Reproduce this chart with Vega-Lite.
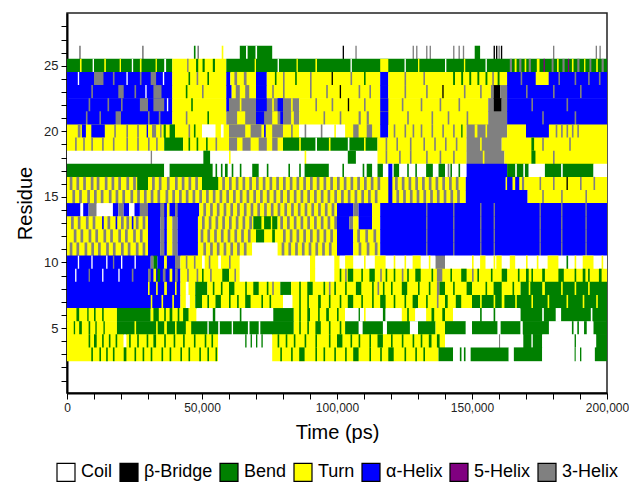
{
"$schema": "https://vega.github.io/schema/vega-lite/v6.json",
"width": 540, "height": 380,
"autosize": {"type": "none"},
"padding": {"left": 67, "top": 13, "right": 22, "bottom": 95},
"config": {"view": {"stroke": "#222", "strokeWidth": 1.5}, "font": "Liberation Sans"},
"data": {"values": [
{"res":26,"t0":4500,"t1":5100,"ss":"3-Helix"},
{"res":26,"t0":27800,"t1":28400,"ss":"3-Helix"},
{"res":26,"t0":47000,"t1":47600,"ss":"Bend"},
{"res":26,"t0":48300,"t1":48900,"ss":"3-Helix"},
{"res":26,"t0":57300,"t1":57900,"ss":"Turn"},
{"res":26,"t0":64000,"t1":76000,"ss":"Bend"},
{"res":26,"t0":66300,"t1":66900,"ss":"Coil"},
{"res":26,"t0":69800,"t1":70400,"ss":"Coil"},
{"res":26,"t0":102100,"t1":102600,"ss":"β-Bridge"},
{"res":26,"t0":106800,"t1":107300,"ss":"3-Helix"},
{"res":26,"t0":128000,"t1":128500,"ss":"3-Helix"},
{"res":26,"t0":129300,"t1":129800,"ss":"3-Helix"},
{"res":26,"t0":133000,"t1":133500,"ss":"3-Helix"},
{"res":26,"t0":134300,"t1":134800,"ss":"3-Helix"},
{"res":26,"t0":143000,"t1":143500,"ss":"3-Helix"},
{"res":26,"t0":145000,"t1":145500,"ss":"3-Helix"},
{"res":26,"t0":146600,"t1":147100,"ss":"3-Helix"},
{"res":26,"t0":151000,"t1":153000,"ss":"Bend"},
{"res":26,"t0":158000,"t1":158500,"ss":"β-Bridge"},
{"res":26,"t0":158900,"t1":159400,"ss":"β-Bridge"},
{"res":26,"t0":159800,"t1":160300,"ss":"3-Helix"},
{"res":26,"t0":160700,"t1":161200,"ss":"β-Bridge"},
{"res":26,"t0":180000,"t1":180500,"ss":"3-Helix"},
{"res":26,"t0":195800,"t1":196300,"ss":"3-Helix"},
{"res":26,"t0":197200,"t1":197700,"ss":"3-Helix"},

{"res":25,"t0":0,"t1":39000,"ss":"Bend"},
{"res":25,"t0":39000,"t1":59000,"ss":"Turn"},
{"res":25,"t0":59000,"t1":200000,"ss":"Bend"},
{"res":25,"t0":4800,"t1":5400,"ss":"Turn"},
{"res":25,"t0":9500,"t1":10000,"ss":"Coil"},
{"res":25,"t0":13800,"t1":14400,"ss":"Turn"},
{"res":25,"t0":19500,"t1":20000,"ss":"Turn"},
{"res":25,"t0":24000,"t1":24500,"ss":"Coil"},
{"res":25,"t0":27000,"t1":27600,"ss":"Turn"},
{"res":25,"t0":32800,"t1":33300,"ss":"Turn"},
{"res":25,"t0":36000,"t1":36700,"ss":"Coil"},
{"res":25,"t0":44500,"t1":45000,"ss":"3-Helix"},
{"res":25,"t0":47800,"t1":48600,"ss":"Bend"},
{"res":25,"t0":50200,"t1":51000,"ss":"Bend"},
{"res":25,"t0":54000,"t1":54800,"ss":"Bend"},
{"res":25,"t0":69500,"t1":70000,"ss":"Turn"},
{"res":25,"t0":78000,"t1":78500,"ss":"Coil"},
{"res":25,"t0":85000,"t1":85500,"ss":"Turn"},
{"res":25,"t0":92000,"t1":92600,"ss":"Turn"},
{"res":25,"t0":105000,"t1":105500,"ss":"Coil"},
{"res":25,"t0":116000,"t1":119000,"ss":"Turn"},
{"res":25,"t0":125000,"t1":125500,"ss":"Coil"},
{"res":25,"t0":130000,"t1":130500,"ss":"Turn"},
{"res":25,"t0":140000,"t1":140500,"ss":"Coil"},
{"res":25,"t0":147000,"t1":147500,"ss":"Turn"},
{"res":25,"t0":155000,"t1":155500,"ss":"Coil"},
{"res":25,"t0":164000,"t1":164800,"ss":"3-Helix"},
{"res":25,"t0":165800,"t1":166500,"ss":"Turn"},
{"res":25,"t0":167500,"t1":168300,"ss":"3-Helix"},
{"res":25,"t0":169500,"t1":170100,"ss":"Turn"},
{"res":25,"t0":171000,"t1":171800,"ss":"3-Helix"},
{"res":25,"t0":174000,"t1":175000,"ss":"Turn"},
{"res":25,"t0":176500,"t1":177000,"ss":"5-Helix"},
{"res":25,"t0":179500,"t1":180200,"ss":"3-Helix"},
{"res":25,"t0":181500,"t1":182100,"ss":"Turn"},
{"res":25,"t0":183500,"t1":184300,"ss":"3-Helix"},
{"res":25,"t0":185500,"t1":186000,"ss":"5-Helix"},
{"res":25,"t0":187000,"t1":187600,"ss":"Turn"},
{"res":25,"t0":189000,"t1":189800,"ss":"3-Helix"},
{"res":25,"t0":191500,"t1":192000,"ss":"Turn"},
{"res":25,"t0":193500,"t1":194200,"ss":"3-Helix"},
{"res":25,"t0":196000,"t1":196600,"ss":"Turn"},
{"res":25,"t0":198000,"t1":198800,"ss":"3-Helix"},

{"res":24,"t0":0,"t1":39000,"ss":"α-Helix"},
{"res":24,"t0":39000,"t1":59000,"ss":"Turn"},
{"res":24,"t0":59000,"t1":60500,"ss":"α-Helix"},
{"res":24,"t0":60500,"t1":70000,"ss":"Turn"},
{"res":24,"t0":70000,"t1":74000,"ss":"α-Helix"},
{"res":24,"t0":74000,"t1":116000,"ss":"Turn"},
{"res":24,"t0":116000,"t1":119000,"ss":"α-Helix"},
{"res":24,"t0":119000,"t1":163000,"ss":"Turn"},
{"res":24,"t0":163000,"t1":200000,"ss":"α-Helix"},
{"res":24,"t0":4000,"t1":4500,"ss":"Coil"},
{"res":24,"t0":10000,"t1":13500,"ss":"3-Helix"},
{"res":24,"t0":17000,"t1":17600,"ss":"3-Helix"},
{"res":24,"t0":22000,"t1":22500,"ss":"Coil"},
{"res":24,"t0":27000,"t1":27600,"ss":"3-Helix"},
{"res":24,"t0":31000,"t1":33000,"ss":"3-Helix"},
{"res":24,"t0":35500,"t1":36000,"ss":"Coil"},
{"res":24,"t0":45000,"t1":45600,"ss":"Bend"},
{"res":24,"t0":48000,"t1":48600,"ss":"3-Helix"},
{"res":24,"t0":52000,"t1":52600,"ss":"Bend"},
{"res":24,"t0":62000,"t1":63000,"ss":"3-Helix"},
{"res":24,"t0":65500,"t1":66500,"ss":"3-Helix"},
{"res":24,"t0":77000,"t1":77600,"ss":"Bend"},
{"res":24,"t0":80000,"t1":80600,"ss":"3-Helix"},
{"res":24,"t0":84500,"t1":85100,"ss":"Bend"},
{"res":24,"t0":90000,"t1":90600,"ss":"3-Helix"},
{"res":24,"t0":98000,"t1":98500,"ss":"β-Bridge"},
{"res":24,"t0":105000,"t1":105600,"ss":"3-Helix"},
{"res":24,"t0":110000,"t1":110600,"ss":"Bend"},
{"res":24,"t0":125000,"t1":125600,"ss":"3-Helix"},
{"res":24,"t0":132000,"t1":132600,"ss":"3-Helix"},
{"res":24,"t0":143000,"t1":143700,"ss":"Bend"},
{"res":24,"t0":146000,"t1":146700,"ss":"Bend"},
{"res":24,"t0":149000,"t1":149700,"ss":"Bend"},
{"res":24,"t0":152000,"t1":152700,"ss":"Bend"},
{"res":24,"t0":155000,"t1":155700,"ss":"Bend"},
{"res":24,"t0":157500,"t1":158100,"ss":"3-Helix"},
{"res":24,"t0":159500,"t1":160200,"ss":"Bend"},
{"res":24,"t0":168000,"t1":168600,"ss":"3-Helix"},
{"res":24,"t0":173600,"t1":178400,"ss":"Turn"},
{"res":24,"t0":182000,"t1":182600,"ss":"3-Helix"},
{"res":24,"t0":188000,"t1":188600,"ss":"3-Helix"},
{"res":24,"t0":193000,"t1":193600,"ss":"3-Helix"},
{"res":24,"t0":197000,"t1":197600,"ss":"3-Helix"},

{"res":23,"t0":0,"t1":39000,"ss":"α-Helix"},
{"res":23,"t0":39000,"t1":59000,"ss":"Turn"},
{"res":23,"t0":59000,"t1":61000,"ss":"α-Helix"},
{"res":23,"t0":61000,"t1":70000,"ss":"Turn"},
{"res":23,"t0":70000,"t1":74000,"ss":"α-Helix"},
{"res":23,"t0":74000,"t1":116000,"ss":"Turn"},
{"res":23,"t0":116000,"t1":119000,"ss":"α-Helix"},
{"res":23,"t0":119000,"t1":157000,"ss":"Turn"},
{"res":23,"t0":157000,"t1":158000,"ss":"3-Helix"},
{"res":23,"t0":158000,"t1":160500,"ss":"β-Bridge"},
{"res":23,"t0":160500,"t1":163000,"ss":"3-Helix"},
{"res":23,"t0":163000,"t1":200000,"ss":"α-Helix"},
{"res":23,"t0":9000,"t1":9600,"ss":"3-Helix"},
{"res":23,"t0":19000,"t1":21000,"ss":"3-Helix"},
{"res":23,"t0":25000,"t1":25600,"ss":"3-Helix"},
{"res":23,"t0":29000,"t1":29500,"ss":"Coil"},
{"res":23,"t0":32000,"t1":35000,"ss":"3-Helix"},
{"res":23,"t0":44000,"t1":44600,"ss":"Bend"},
{"res":23,"t0":50000,"t1":50600,"ss":"3-Helix"},
{"res":23,"t0":62500,"t1":64000,"ss":"3-Helix"},
{"res":23,"t0":66000,"t1":67500,"ss":"3-Helix"},
{"res":23,"t0":76000,"t1":76600,"ss":"3-Helix"},
{"res":23,"t0":80000,"t1":80600,"ss":"3-Helix"},
{"res":23,"t0":90000,"t1":90600,"ss":"3-Helix"},
{"res":23,"t0":96000,"t1":96600,"ss":"3-Helix"},
{"res":23,"t0":101000,"t1":101500,"ss":"β-Bridge"},
{"res":23,"t0":108000,"t1":108600,"ss":"3-Helix"},
{"res":23,"t0":112000,"t1":112600,"ss":"3-Helix"},
{"res":23,"t0":125000,"t1":125600,"ss":"3-Helix"},
{"res":23,"t0":133000,"t1":133600,"ss":"3-Helix"},
{"res":23,"t0":139000,"t1":139500,"ss":"β-Bridge"},
{"res":23,"t0":147000,"t1":147600,"ss":"3-Helix"},
{"res":23,"t0":153000,"t1":153600,"ss":"3-Helix"},
{"res":23,"t0":170000,"t1":170600,"ss":"3-Helix"},
{"res":23,"t0":180000,"t1":180600,"ss":"3-Helix"},
{"res":23,"t0":190000,"t1":190600,"ss":"3-Helix"},

{"res":22,"t0":0,"t1":39000,"ss":"α-Helix"},
{"res":22,"t0":39000,"t1":59000,"ss":"Turn"},
{"res":22,"t0":59000,"t1":60000,"ss":"α-Helix"},
{"res":22,"t0":60000,"t1":86000,"ss":"3-Helix"},
{"res":22,"t0":86000,"t1":156000,"ss":"Turn"},
{"res":22,"t0":156000,"t1":158000,"ss":"3-Helix"},
{"res":22,"t0":158000,"t1":161000,"ss":"β-Bridge"},
{"res":22,"t0":161000,"t1":163000,"ss":"3-Helix"},
{"res":22,"t0":163000,"t1":200000,"ss":"α-Helix"},
{"res":22,"t0":8000,"t1":8600,"ss":"3-Helix"},
{"res":22,"t0":15000,"t1":15600,"ss":"3-Helix"},
{"res":22,"t0":20000,"t1":20600,"ss":"3-Helix"},
{"res":22,"t0":27000,"t1":30000,"ss":"3-Helix"},
{"res":22,"t0":32000,"t1":36000,"ss":"3-Helix"},
{"res":22,"t0":37000,"t1":37500,"ss":"Coil"},
{"res":22,"t0":46000,"t1":46600,"ss":"Bend"},
{"res":22,"t0":64000,"t1":64600,"ss":"Turn"},
{"res":22,"t0":70000,"t1":74000,"ss":"α-Helix"},
{"res":22,"t0":76000,"t1":76600,"ss":"Turn"},
{"res":22,"t0":78000,"t1":80000,"ss":"α-Helix"},
{"res":22,"t0":83000,"t1":83600,"ss":"Turn"},
{"res":22,"t0":92000,"t1":92600,"ss":"3-Helix"},
{"res":22,"t0":98000,"t1":98600,"ss":"3-Helix"},
{"res":22,"t0":104000,"t1":104500,"ss":"β-Bridge"},
{"res":22,"t0":110000,"t1":110600,"ss":"3-Helix"},
{"res":22,"t0":116000,"t1":119000,"ss":"α-Helix"},
{"res":22,"t0":124000,"t1":124600,"ss":"3-Helix"},
{"res":22,"t0":131000,"t1":131600,"ss":"3-Helix"},
{"res":22,"t0":138000,"t1":138600,"ss":"3-Helix"},
{"res":22,"t0":145000,"t1":145600,"ss":"3-Helix"},
{"res":22,"t0":172000,"t1":172600,"ss":"3-Helix"},
{"res":22,"t0":185000,"t1":185600,"ss":"3-Helix"},

{"res":21,"t0":0,"t1":39000,"ss":"α-Helix"},
{"res":21,"t0":39000,"t1":59000,"ss":"Turn"},
{"res":21,"t0":59000,"t1":86000,"ss":"3-Helix"},
{"res":21,"t0":86000,"t1":156000,"ss":"Turn"},
{"res":21,"t0":156000,"t1":163000,"ss":"3-Helix"},
{"res":21,"t0":163000,"t1":200000,"ss":"α-Helix"},
{"res":21,"t0":7000,"t1":7600,"ss":"3-Helix"},
{"res":21,"t0":12000,"t1":12600,"ss":"3-Helix"},
{"res":21,"t0":18000,"t1":20000,"ss":"3-Helix"},
{"res":21,"t0":30000,"t1":30600,"ss":"3-Helix"},
{"res":21,"t0":34000,"t1":34600,"ss":"3-Helix"},
{"res":21,"t0":44000,"t1":44600,"ss":"3-Helix"},
{"res":21,"t0":52000,"t1":52600,"ss":"Bend"},
{"res":21,"t0":63000,"t1":66000,"ss":"Turn"},
{"res":21,"t0":70000,"t1":73000,"ss":"α-Helix"},
{"res":21,"t0":76000,"t1":78000,"ss":"Turn"},
{"res":21,"t0":79000,"t1":80000,"ss":"α-Helix"},
{"res":21,"t0":83000,"t1":84000,"ss":"Turn"},
{"res":21,"t0":95000,"t1":95600,"ss":"3-Helix"},
{"res":21,"t0":101000,"t1":101600,"ss":"3-Helix"},
{"res":21,"t0":108000,"t1":108800,"ss":"3-Helix"},
{"res":21,"t0":111000,"t1":111800,"ss":"3-Helix"},
{"res":21,"t0":116000,"t1":119000,"ss":"α-Helix"},
{"res":21,"t0":126000,"t1":126600,"ss":"3-Helix"},
{"res":21,"t0":135000,"t1":135600,"ss":"3-Helix"},
{"res":21,"t0":141000,"t1":141600,"ss":"3-Helix"},
{"res":21,"t0":148000,"t1":148600,"ss":"3-Helix"},
{"res":21,"t0":176000,"t1":176600,"ss":"3-Helix"},
{"res":21,"t0":188000,"t1":188600,"ss":"3-Helix"},

{"res":20,"t0":0,"t1":86000,"ss":"Turn"},
{"res":20,"t0":86000,"t1":103000,"ss":"Coil"},
{"res":20,"t0":103000,"t1":116000,"ss":"Turn"},
{"res":20,"t0":116000,"t1":119000,"ss":"α-Helix"},
{"res":20,"t0":119000,"t1":148000,"ss":"Turn"},
{"res":20,"t0":148000,"t1":163000,"ss":"3-Helix"},
{"res":20,"t0":163000,"t1":170000,"ss":"Turn"},
{"res":20,"t0":170000,"t1":178500,"ss":"α-Helix"},
{"res":20,"t0":178500,"t1":200000,"ss":"Turn"},
{"res":20,"t0":4000,"t1":5000,"ss":"3-Helix"},
{"res":20,"t0":5500,"t1":7000,"ss":"α-Helix"},
{"res":20,"t0":9000,"t1":14000,"ss":"α-Helix"},
{"res":20,"t0":17500,"t1":18100,"ss":"3-Helix"},
{"res":20,"t0":22000,"t1":22600,"ss":"3-Helix"},
{"res":20,"t0":26000,"t1":26600,"ss":"3-Helix"},
{"res":20,"t0":29500,"t1":30000,"ss":"α-Helix"},
{"res":20,"t0":31500,"t1":33000,"ss":"3-Helix"},
{"res":20,"t0":34500,"t1":35000,"ss":"3-Helix"},
{"res":20,"t0":35800,"t1":36600,"ss":"Bend"},
{"res":20,"t0":38000,"t1":40000,"ss":"Bend"},
{"res":20,"t0":45000,"t1":45600,"ss":"3-Helix"},
{"res":20,"t0":47000,"t1":47600,"ss":"Bend"},
{"res":20,"t0":50000,"t1":55000,"ss":"Coil"},
{"res":20,"t0":57000,"t1":58000,"ss":"Coil"},
{"res":20,"t0":60000,"t1":66000,"ss":"3-Helix"},
{"res":20,"t0":68000,"t1":72000,"ss":"3-Helix"},
{"res":20,"t0":73000,"t1":73600,"ss":"α-Helix"},
{"res":20,"t0":76000,"t1":80000,"ss":"3-Helix"},
{"res":20,"t0":83000,"t1":83600,"ss":"3-Helix"},
{"res":20,"t0":88000,"t1":88600,"ss":"3-Helix"},
{"res":20,"t0":94000,"t1":94600,"ss":"3-Helix"},
{"res":20,"t0":99000,"t1":99600,"ss":"Turn"},
{"res":20,"t0":106000,"t1":108000,"ss":"3-Helix"},
{"res":20,"t0":111000,"t1":113000,"ss":"3-Helix"},
{"res":20,"t0":121000,"t1":121600,"ss":"3-Helix"},
{"res":20,"t0":125000,"t1":125600,"ss":"3-Helix"},
{"res":20,"t0":128000,"t1":128600,"ss":"3-Helix"},
{"res":20,"t0":131000,"t1":131600,"ss":"3-Helix"},
{"res":20,"t0":135000,"t1":135600,"ss":"3-Helix"},
{"res":20,"t0":139000,"t1":139600,"ss":"3-Helix"},
{"res":20,"t0":143000,"t1":143600,"ss":"3-Helix"},
{"res":20,"t0":146000,"t1":146500,"ss":"Bend"},
{"res":20,"t0":151000,"t1":152000,"ss":"Turn"},
{"res":20,"t0":155000,"t1":155600,"ss":"Turn"},
{"res":20,"t0":181000,"t1":181600,"ss":"3-Helix"},
{"res":20,"t0":183000,"t1":183600,"ss":"3-Helix"},
{"res":20,"t0":185000,"t1":185600,"ss":"3-Helix"},
{"res":20,"t0":187000,"t1":187600,"ss":"3-Helix"},
{"res":20,"t0":189000,"t1":189600,"ss":"3-Helix"},

{"res":19,"t0":0,"t1":36000,"ss":"Turn"},
{"res":19,"t0":36000,"t1":43000,"ss":"Bend"},
{"res":19,"t0":43000,"t1":80000,"ss":"Turn"},
{"res":19,"t0":80000,"t1":115000,"ss":"Bend"},
{"res":19,"t0":115000,"t1":148000,"ss":"Turn"},
{"res":19,"t0":148000,"t1":161000,"ss":"3-Helix"},
{"res":19,"t0":161000,"t1":200000,"ss":"Turn"},
{"res":19,"t0":3000,"t1":3600,"ss":"3-Helix"},
{"res":19,"t0":6000,"t1":6600,"ss":"3-Helix"},
{"res":19,"t0":9000,"t1":9600,"ss":"3-Helix"},
{"res":19,"t0":13000,"t1":13600,"ss":"3-Helix"},
{"res":19,"t0":17000,"t1":17600,"ss":"3-Helix"},
{"res":19,"t0":22000,"t1":22600,"ss":"3-Helix"},
{"res":19,"t0":26000,"t1":26600,"ss":"3-Helix"},
{"res":19,"t0":30000,"t1":30600,"ss":"3-Helix"},
{"res":19,"t0":33000,"t1":33600,"ss":"3-Helix"},
{"res":19,"t0":45000,"t1":45600,"ss":"Bend"},
{"res":19,"t0":48000,"t1":48600,"ss":"Bend"},
{"res":19,"t0":51500,"t1":52100,"ss":"Bend"},
{"res":19,"t0":55000,"t1":55600,"ss":"3-Helix"},
{"res":19,"t0":60000,"t1":63000,"ss":"3-Helix"},
{"res":19,"t0":65000,"t1":68000,"ss":"3-Helix"},
{"res":19,"t0":71000,"t1":74000,"ss":"3-Helix"},
{"res":19,"t0":76000,"t1":78000,"ss":"3-Helix"},
{"res":19,"t0":86000,"t1":86600,"ss":"Turn"},
{"res":19,"t0":92000,"t1":92600,"ss":"Coil"},
{"res":19,"t0":97000,"t1":97600,"ss":"Turn"},
{"res":19,"t0":104000,"t1":104600,"ss":"Coil"},
{"res":19,"t0":110000,"t1":110600,"ss":"Turn"},
{"res":19,"t0":118000,"t1":118600,"ss":"3-Helix"},
{"res":19,"t0":122000,"t1":122600,"ss":"3-Helix"},
{"res":19,"t0":127000,"t1":127600,"ss":"3-Helix"},
{"res":19,"t0":132000,"t1":132600,"ss":"3-Helix"},
{"res":19,"t0":136000,"t1":136600,"ss":"3-Helix"},
{"res":19,"t0":140000,"t1":140600,"ss":"3-Helix"},
{"res":19,"t0":144000,"t1":144600,"ss":"3-Helix"},
{"res":19,"t0":153000,"t1":153600,"ss":"Turn"},
{"res":19,"t0":172000,"t1":173000,"ss":"Bend"},
{"res":19,"t0":176000,"t1":176600,"ss":"3-Helix"},
{"res":19,"t0":186000,"t1":186600,"ss":"3-Helix"},

{"res":18,"t0":0,"t1":115000,"ss":"Coil"},
{"res":18,"t0":115000,"t1":148000,"ss":"Turn"},
{"res":18,"t0":148000,"t1":162000,"ss":"3-Helix"},
{"res":18,"t0":162000,"t1":200000,"ss":"Turn"},
{"res":18,"t0":31000,"t1":31500,"ss":"3-Helix"},
{"res":18,"t0":50500,"t1":53000,"ss":"Bend"},
{"res":18,"t0":60000,"t1":60600,"ss":"Turn"},
{"res":18,"t0":88000,"t1":88600,"ss":"Turn"},
{"res":18,"t0":104000,"t1":107000,"ss":"Bend"},
{"res":18,"t0":118000,"t1":118600,"ss":"3-Helix"},
{"res":18,"t0":123000,"t1":123600,"ss":"3-Helix"},
{"res":18,"t0":127000,"t1":127600,"ss":"3-Helix"},
{"res":18,"t0":133000,"t1":133600,"ss":"3-Helix"},
{"res":18,"t0":138000,"t1":138600,"ss":"3-Helix"},
{"res":18,"t0":143000,"t1":143600,"ss":"3-Helix"},
{"res":18,"t0":154000,"t1":154600,"ss":"Turn"},
{"res":18,"t0":172000,"t1":173500,"ss":"Bend"},
{"res":18,"t0":180000,"t1":180600,"ss":"3-Helix"},

{"res":17,"t0":0,"t1":36000,"ss":"Bend"},
{"res":17,"t0":36000,"t1":38000,"ss":"Coil"},
{"res":17,"t0":38000,"t1":54000,"ss":"Bend"},
{"res":17,"t0":54000,"t1":88000,"ss":"Coil"},
{"res":17,"t0":88000,"t1":97000,"ss":"Bend"},
{"res":17,"t0":97000,"t1":148000,"ss":"Coil"},
{"res":17,"t0":148000,"t1":163000,"ss":"α-Helix"},
{"res":17,"t0":163000,"t1":171000,"ss":"Bend"},
{"res":17,"t0":171000,"t1":177000,"ss":"Coil"},
{"res":17,"t0":177000,"t1":195000,"ss":"Bend"},
{"res":17,"t0":195000,"t1":200000,"ss":"Coil"},
{"res":17,"t0":55000,"t1":55600,"ss":"Bend"},
{"res":17,"t0":57000,"t1":57600,"ss":"Bend"},
{"res":17,"t0":58500,"t1":59500,"ss":"Bend"},
{"res":17,"t0":61000,"t1":61600,"ss":"Bend"},
{"res":17,"t0":64000,"t1":64600,"ss":"Bend"},
{"res":17,"t0":68600,"t1":71000,"ss":"Bend"},
{"res":17,"t0":74000,"t1":74600,"ss":"Bend"},
{"res":17,"t0":82000,"t1":82600,"ss":"Bend"},
{"res":17,"t0":86000,"t1":86600,"ss":"Bend"},
{"res":17,"t0":102000,"t1":102600,"ss":"Bend"},
{"res":17,"t0":109500,"t1":110100,"ss":"Bend"},
{"res":17,"t0":111000,"t1":113000,"ss":"Bend"},
{"res":17,"t0":115000,"t1":117000,"ss":"Bend"},
{"res":17,"t0":119000,"t1":120500,"ss":"α-Helix"},
{"res":17,"t0":121000,"t1":123000,"ss":"Bend"},
{"res":17,"t0":126000,"t1":126600,"ss":"Bend"},
{"res":17,"t0":129000,"t1":129600,"ss":"Bend"},
{"res":17,"t0":133000,"t1":135500,"ss":"Bend"},
{"res":17,"t0":137600,"t1":140000,"ss":"Bend"},
{"res":17,"t0":141000,"t1":141600,"ss":"3-Helix"},
{"res":17,"t0":142000,"t1":142600,"ss":"Bend"},
{"res":17,"t0":145000,"t1":145600,"ss":"Bend"},
{"res":17,"t0":166000,"t1":166600,"ss":"Coil"},
{"res":17,"t0":169000,"t1":169600,"ss":"Coil"},
{"res":17,"t0":183000,"t1":183600,"ss":"Coil"},

{"res":16,"t0":0,"t1":147700,"ss":"Turn"},
{"res":16,"t0":147700,"t1":162500,"ss":"α-Helix"},
{"res":16,"t0":162500,"t1":200000,"ss":"Turn"},
{"res":16,"t0":26000,"t1":30000,"ss":"Bend"},
{"res":16,"t0":50000,"t1":56000,"ss":"Bend"},
{"res":16,"t0":1000,"t1":2000,"ss":"3-Helix"},
{"res":16,"t0":3500,"t1":4500,"ss":"3-Helix"},
{"res":16,"t0":6000,"t1":7000,"ss":"3-Helix"},
{"res":16,"t0":8800,"t1":9800,"ss":"3-Helix"},
{"res":16,"t0":11000,"t1":12000,"ss":"3-Helix"},
{"res":16,"t0":14000,"t1":15000,"ss":"3-Helix"},
{"res":16,"t0":16500,"t1":17500,"ss":"3-Helix"},
{"res":16,"t0":19000,"t1":20000,"ss":"3-Helix"},
{"res":16,"t0":22000,"t1":23000,"ss":"3-Helix"},
{"res":16,"t0":24500,"t1":25500,"ss":"3-Helix"},
{"res":16,"t0":31500,"t1":32500,"ss":"3-Helix"},
{"res":16,"t0":34000,"t1":35000,"ss":"3-Helix"},
{"res":16,"t0":37000,"t1":38000,"ss":"3-Helix"},
{"res":16,"t0":40000,"t1":41000,"ss":"3-Helix"},
{"res":16,"t0":42500,"t1":43500,"ss":"3-Helix"},
{"res":16,"t0":45000,"t1":46000,"ss":"3-Helix"},
{"res":16,"t0":47500,"t1":48500,"ss":"3-Helix"},
{"res":16,"t0":57500,"t1":58500,"ss":"3-Helix"},
{"res":16,"t0":60000,"t1":61000,"ss":"3-Helix"},
{"res":16,"t0":62500,"t1":63500,"ss":"3-Helix"},
{"res":16,"t0":65000,"t1":66000,"ss":"3-Helix"},
{"res":16,"t0":67500,"t1":68500,"ss":"3-Helix"},
{"res":16,"t0":70000,"t1":71000,"ss":"3-Helix"},
{"res":16,"t0":72500,"t1":73500,"ss":"3-Helix"},
{"res":16,"t0":75000,"t1":76000,"ss":"3-Helix"},
{"res":16,"t0":77500,"t1":78500,"ss":"3-Helix"},
{"res":16,"t0":80000,"t1":81000,"ss":"3-Helix"},
{"res":16,"t0":82500,"t1":83500,"ss":"3-Helix"},
{"res":16,"t0":85000,"t1":86000,"ss":"3-Helix"},
{"res":16,"t0":87500,"t1":88500,"ss":"3-Helix"},
{"res":16,"t0":90000,"t1":91000,"ss":"3-Helix"},
{"res":16,"t0":92500,"t1":93500,"ss":"3-Helix"},
{"res":16,"t0":95000,"t1":96000,"ss":"3-Helix"},
{"res":16,"t0":97500,"t1":98500,"ss":"3-Helix"},
{"res":16,"t0":100000,"t1":101000,"ss":"3-Helix"},
{"res":16,"t0":102500,"t1":103500,"ss":"3-Helix"},
{"res":16,"t0":105000,"t1":106000,"ss":"3-Helix"},
{"res":16,"t0":107500,"t1":108500,"ss":"3-Helix"},
{"res":16,"t0":110000,"t1":111000,"ss":"3-Helix"},
{"res":16,"t0":112500,"t1":113500,"ss":"3-Helix"},
{"res":16,"t0":115000,"t1":116000,"ss":"3-Helix"},
{"res":16,"t0":119000,"t1":120500,"ss":"α-Helix"},
{"res":16,"t0":121500,"t1":122500,"ss":"3-Helix"},
{"res":16,"t0":124000,"t1":125000,"ss":"3-Helix"},
{"res":16,"t0":126500,"t1":127500,"ss":"3-Helix"},
{"res":16,"t0":129000,"t1":130000,"ss":"3-Helix"},
{"res":16,"t0":131500,"t1":132500,"ss":"3-Helix"},
{"res":16,"t0":134000,"t1":135000,"ss":"3-Helix"},
{"res":16,"t0":136500,"t1":137500,"ss":"3-Helix"},
{"res":16,"t0":139000,"t1":140000,"ss":"3-Helix"},
{"res":16,"t0":141500,"t1":142500,"ss":"3-Helix"},
{"res":16,"t0":144000,"t1":145000,"ss":"3-Helix"},
{"res":16,"t0":163000,"t1":165000,"ss":"α-Helix"},
{"res":16,"t0":166000,"t1":167500,"ss":"α-Helix"},
{"res":16,"t0":168500,"t1":169300,"ss":"3-Helix"},
{"res":16,"t0":175000,"t1":175600,"ss":"3-Helix"},
{"res":16,"t0":180000,"t1":180600,"ss":"3-Helix"},
{"res":16,"t0":185000,"t1":185500,"ss":"β-Bridge"},
{"res":16,"t0":190000,"t1":190600,"ss":"3-Helix"},
{"res":16,"t0":195000,"t1":195600,"ss":"3-Helix"},

{"res":15,"t0":0,"t1":147700,"ss":"Turn"},
{"res":15,"t0":147700,"t1":170600,"ss":"α-Helix"},
{"res":15,"t0":170600,"t1":200000,"ss":"Turn"},
{"res":15,"t0":2000,"t1":3000,"ss":"3-Helix"},
{"res":15,"t0":4500,"t1":5500,"ss":"3-Helix"},
{"res":15,"t0":7500,"t1":8500,"ss":"3-Helix"},
{"res":15,"t0":10000,"t1":11000,"ss":"3-Helix"},
{"res":15,"t0":12500,"t1":13500,"ss":"3-Helix"},
{"res":15,"t0":15500,"t1":16500,"ss":"3-Helix"},
{"res":15,"t0":18000,"t1":19000,"ss":"3-Helix"},
{"res":15,"t0":20500,"t1":21500,"ss":"3-Helix"},
{"res":15,"t0":23500,"t1":24500,"ss":"3-Helix"},
{"res":15,"t0":26000,"t1":27000,"ss":"3-Helix"},
{"res":15,"t0":28500,"t1":29500,"ss":"3-Helix"},
{"res":15,"t0":31000,"t1":32000,"ss":"3-Helix"},
{"res":15,"t0":33500,"t1":34500,"ss":"3-Helix"},
{"res":15,"t0":36500,"t1":37500,"ss":"3-Helix"},
{"res":15,"t0":39000,"t1":40000,"ss":"3-Helix"},
{"res":15,"t0":41500,"t1":42500,"ss":"3-Helix"},
{"res":15,"t0":44000,"t1":45000,"ss":"3-Helix"},
{"res":15,"t0":46500,"t1":47500,"ss":"3-Helix"},
{"res":15,"t0":49000,"t1":50000,"ss":"3-Helix"},
{"res":15,"t0":51500,"t1":52500,"ss":"3-Helix"},
{"res":15,"t0":54000,"t1":55000,"ss":"3-Helix"},
{"res":15,"t0":56500,"t1":57500,"ss":"3-Helix"},
{"res":15,"t0":59000,"t1":60000,"ss":"3-Helix"},
{"res":15,"t0":61500,"t1":62500,"ss":"3-Helix"},
{"res":15,"t0":64000,"t1":65000,"ss":"3-Helix"},
{"res":15,"t0":66500,"t1":67500,"ss":"3-Helix"},
{"res":15,"t0":69000,"t1":70000,"ss":"3-Helix"},
{"res":15,"t0":71500,"t1":72500,"ss":"3-Helix"},
{"res":15,"t0":74000,"t1":75000,"ss":"3-Helix"},
{"res":15,"t0":76500,"t1":77500,"ss":"3-Helix"},
{"res":15,"t0":79000,"t1":80000,"ss":"3-Helix"},
{"res":15,"t0":81500,"t1":82500,"ss":"3-Helix"},
{"res":15,"t0":84000,"t1":85000,"ss":"3-Helix"},
{"res":15,"t0":86500,"t1":87500,"ss":"3-Helix"},
{"res":15,"t0":89000,"t1":90000,"ss":"3-Helix"},
{"res":15,"t0":91500,"t1":92500,"ss":"3-Helix"},
{"res":15,"t0":94000,"t1":95000,"ss":"3-Helix"},
{"res":15,"t0":96500,"t1":97500,"ss":"3-Helix"},
{"res":15,"t0":99000,"t1":100000,"ss":"3-Helix"},
{"res":15,"t0":101500,"t1":102500,"ss":"3-Helix"},
{"res":15,"t0":104000,"t1":105000,"ss":"3-Helix"},
{"res":15,"t0":106500,"t1":107500,"ss":"3-Helix"},
{"res":15,"t0":109000,"t1":110000,"ss":"3-Helix"},
{"res":15,"t0":111500,"t1":112500,"ss":"3-Helix"},
{"res":15,"t0":114000,"t1":115000,"ss":"3-Helix"},
{"res":15,"t0":119000,"t1":120500,"ss":"α-Helix"},
{"res":15,"t0":122000,"t1":123000,"ss":"3-Helix"},
{"res":15,"t0":124500,"t1":125500,"ss":"3-Helix"},
{"res":15,"t0":127000,"t1":128000,"ss":"3-Helix"},
{"res":15,"t0":129500,"t1":130500,"ss":"3-Helix"},
{"res":15,"t0":132000,"t1":133000,"ss":"3-Helix"},
{"res":15,"t0":134500,"t1":135500,"ss":"3-Helix"},
{"res":15,"t0":137000,"t1":138000,"ss":"3-Helix"},
{"res":15,"t0":139500,"t1":140500,"ss":"3-Helix"},
{"res":15,"t0":142000,"t1":143000,"ss":"3-Helix"},
{"res":15,"t0":144500,"t1":145500,"ss":"3-Helix"},
{"res":15,"t0":176000,"t1":176600,"ss":"3-Helix"},
{"res":15,"t0":183000,"t1":183600,"ss":"3-Helix"},
{"res":15,"t0":192000,"t1":192600,"ss":"3-Helix"},

{"res":14,"t0":0,"t1":5000,"ss":"α-Helix"},
{"res":14,"t0":5000,"t1":6000,"ss":"Coil"},
{"res":14,"t0":6000,"t1":8000,"ss":"α-Helix"},
{"res":14,"t0":8000,"t1":11000,"ss":"3-Helix"},
{"res":14,"t0":11000,"t1":17000,"ss":"Coil"},
{"res":14,"t0":17000,"t1":19000,"ss":"α-Helix"},
{"res":14,"t0":19000,"t1":21000,"ss":"3-Helix"},
{"res":14,"t0":21000,"t1":23000,"ss":"α-Helix"},
{"res":14,"t0":23000,"t1":25000,"ss":"Coil"},
{"res":14,"t0":25000,"t1":27000,"ss":"α-Helix"},
{"res":14,"t0":27000,"t1":30000,"ss":"3-Helix"},
{"res":14,"t0":30000,"t1":49000,"ss":"α-Helix"},
{"res":14,"t0":49000,"t1":100000,"ss":"Turn"},
{"res":14,"t0":100000,"t1":106000,"ss":"α-Helix"},
{"res":14,"t0":106000,"t1":108000,"ss":"3-Helix"},
{"res":14,"t0":108000,"t1":113000,"ss":"α-Helix"},
{"res":14,"t0":113000,"t1":116000,"ss":"Turn"},
{"res":14,"t0":116000,"t1":200000,"ss":"α-Helix"},
{"res":14,"t0":34500,"t1":36000,"ss":"3-Helix"},
{"res":14,"t0":37000,"t1":38000,"ss":"Turn"},
{"res":14,"t0":40000,"t1":41000,"ss":"3-Helix"},
{"res":14,"t0":50500,"t1":51500,"ss":"3-Helix"},
{"res":14,"t0":53000,"t1":54000,"ss":"3-Helix"},
{"res":14,"t0":55500,"t1":56500,"ss":"3-Helix"},
{"res":14,"t0":58000,"t1":59000,"ss":"3-Helix"},
{"res":14,"t0":60500,"t1":61500,"ss":"3-Helix"},
{"res":14,"t0":63000,"t1":64000,"ss":"3-Helix"},
{"res":14,"t0":65500,"t1":66500,"ss":"3-Helix"},
{"res":14,"t0":68000,"t1":69000,"ss":"3-Helix"},
{"res":14,"t0":70500,"t1":71500,"ss":"3-Helix"},
{"res":14,"t0":73000,"t1":74000,"ss":"3-Helix"},
{"res":14,"t0":75500,"t1":76500,"ss":"3-Helix"},
{"res":14,"t0":78000,"t1":79000,"ss":"3-Helix"},
{"res":14,"t0":80500,"t1":81500,"ss":"3-Helix"},
{"res":14,"t0":83000,"t1":84000,"ss":"3-Helix"},
{"res":14,"t0":85500,"t1":86500,"ss":"3-Helix"},
{"res":14,"t0":88000,"t1":89000,"ss":"3-Helix"},
{"res":14,"t0":90500,"t1":91500,"ss":"3-Helix"},
{"res":14,"t0":93000,"t1":94000,"ss":"3-Helix"},
{"res":14,"t0":95500,"t1":96500,"ss":"3-Helix"},
{"res":14,"t0":98000,"t1":99000,"ss":"3-Helix"},
{"res":14,"t0":133000,"t1":133500,"ss":"3-Helix"},
{"res":14,"t0":143000,"t1":143500,"ss":"3-Helix"},
{"res":14,"t0":153000,"t1":153500,"ss":"3-Helix"},
{"res":14,"t0":158000,"t1":158500,"ss":"3-Helix"},
{"res":14,"t0":175000,"t1":175500,"ss":"3-Helix"},
{"res":14,"t0":183000,"t1":183500,"ss":"3-Helix"},
{"res":14,"t0":192000,"t1":192500,"ss":"3-Helix"},

{"res":13,"t0":0,"t1":30000,"ss":"Turn"},
{"res":13,"t0":30000,"t1":34500,"ss":"α-Helix"},
{"res":13,"t0":34500,"t1":36000,"ss":"3-Helix"},
{"res":13,"t0":36000,"t1":37000,"ss":"α-Helix"},
{"res":13,"t0":37000,"t1":39000,"ss":"Turn"},
{"res":13,"t0":39000,"t1":41000,"ss":"3-Helix"},
{"res":13,"t0":41000,"t1":48500,"ss":"α-Helix"},
{"res":13,"t0":48500,"t1":69000,"ss":"Turn"},
{"res":13,"t0":69000,"t1":78000,"ss":"Bend"},
{"res":13,"t0":78000,"t1":100000,"ss":"Turn"},
{"res":13,"t0":100000,"t1":104500,"ss":"α-Helix"},
{"res":13,"t0":104500,"t1":106000,"ss":"3-Helix"},
{"res":13,"t0":106000,"t1":108000,"ss":"Turn"},
{"res":13,"t0":108000,"t1":113000,"ss":"α-Helix"},
{"res":13,"t0":113000,"t1":116000,"ss":"Turn"},
{"res":13,"t0":116000,"t1":200000,"ss":"α-Helix"},
{"res":13,"t0":1500,"t1":2500,"ss":"3-Helix"},
{"res":13,"t0":4000,"t1":5000,"ss":"3-Helix"},
{"res":13,"t0":7000,"t1":8000,"ss":"3-Helix"},
{"res":13,"t0":9500,"t1":10500,"ss":"3-Helix"},
{"res":13,"t0":13000,"t1":13600,"ss":"α-Helix"},
{"res":13,"t0":15000,"t1":16000,"ss":"3-Helix"},
{"res":13,"t0":18000,"t1":18600,"ss":"α-Helix"},
{"res":13,"t0":20000,"t1":21000,"ss":"3-Helix"},
{"res":13,"t0":22000,"t1":23000,"ss":"3-Helix"},
{"res":13,"t0":24000,"t1":24600,"ss":"α-Helix"},
{"res":13,"t0":25500,"t1":26500,"ss":"3-Helix"},
{"res":13,"t0":28000,"t1":29000,"ss":"3-Helix"},
{"res":13,"t0":50000,"t1":51000,"ss":"3-Helix"},
{"res":13,"t0":52500,"t1":53500,"ss":"3-Helix"},
{"res":13,"t0":55000,"t1":56000,"ss":"3-Helix"},
{"res":13,"t0":57500,"t1":58500,"ss":"3-Helix"},
{"res":13,"t0":60000,"t1":61000,"ss":"3-Helix"},
{"res":13,"t0":62500,"t1":63500,"ss":"3-Helix"},
{"res":13,"t0":65000,"t1":66000,"ss":"3-Helix"},
{"res":13,"t0":67500,"t1":68500,"ss":"3-Helix"},
{"res":13,"t0":72000,"t1":73000,"ss":"Turn"},
{"res":13,"t0":75500,"t1":76000,"ss":"Turn"},
{"res":13,"t0":79000,"t1":80000,"ss":"3-Helix"},
{"res":13,"t0":81500,"t1":82500,"ss":"3-Helix"},
{"res":13,"t0":84000,"t1":85000,"ss":"3-Helix"},
{"res":13,"t0":86500,"t1":87500,"ss":"3-Helix"},
{"res":13,"t0":89000,"t1":90000,"ss":"3-Helix"},
{"res":13,"t0":91500,"t1":92500,"ss":"3-Helix"},
{"res":13,"t0":94000,"t1":95000,"ss":"3-Helix"},
{"res":13,"t0":96500,"t1":97500,"ss":"3-Helix"},
{"res":13,"t0":99000,"t1":100000,"ss":"3-Helix"},
{"res":13,"t0":133000,"t1":133500,"ss":"3-Helix"},
{"res":13,"t0":143000,"t1":143500,"ss":"3-Helix"},
{"res":13,"t0":153000,"t1":153500,"ss":"3-Helix"},
{"res":13,"t0":158000,"t1":158500,"ss":"3-Helix"},
{"res":13,"t0":175000,"t1":175500,"ss":"3-Helix"},
{"res":13,"t0":183000,"t1":183500,"ss":"3-Helix"},
{"res":13,"t0":192000,"t1":192500,"ss":"3-Helix"},

{"res":12,"t0":0,"t1":30000,"ss":"Turn"},
{"res":12,"t0":30000,"t1":34500,"ss":"α-Helix"},
{"res":12,"t0":34500,"t1":36000,"ss":"3-Helix"},
{"res":12,"t0":36000,"t1":37000,"ss":"α-Helix"},
{"res":12,"t0":37000,"t1":39000,"ss":"Turn"},
{"res":12,"t0":39000,"t1":41000,"ss":"3-Helix"},
{"res":12,"t0":41000,"t1":48500,"ss":"α-Helix"},
{"res":12,"t0":48500,"t1":100000,"ss":"Turn"},
{"res":12,"t0":100000,"t1":106000,"ss":"α-Helix"},
{"res":12,"t0":106000,"t1":116000,"ss":"Turn"},
{"res":12,"t0":116000,"t1":200000,"ss":"α-Helix"},
{"res":12,"t0":2500,"t1":3500,"ss":"3-Helix"},
{"res":12,"t0":5000,"t1":6000,"ss":"3-Helix"},
{"res":12,"t0":8000,"t1":9000,"ss":"3-Helix"},
{"res":12,"t0":10500,"t1":11500,"ss":"3-Helix"},
{"res":12,"t0":13500,"t1":14500,"ss":"3-Helix"},
{"res":12,"t0":16000,"t1":17000,"ss":"3-Helix"},
{"res":12,"t0":19000,"t1":20000,"ss":"3-Helix"},
{"res":12,"t0":21500,"t1":22500,"ss":"3-Helix"},
{"res":12,"t0":24500,"t1":25500,"ss":"3-Helix"},
{"res":12,"t0":27000,"t1":28000,"ss":"3-Helix"},
{"res":12,"t0":49500,"t1":50500,"ss":"3-Helix"},
{"res":12,"t0":52000,"t1":53000,"ss":"3-Helix"},
{"res":12,"t0":54500,"t1":55500,"ss":"3-Helix"},
{"res":12,"t0":57000,"t1":58000,"ss":"3-Helix"},
{"res":12,"t0":59500,"t1":60500,"ss":"3-Helix"},
{"res":12,"t0":62000,"t1":63000,"ss":"3-Helix"},
{"res":12,"t0":64500,"t1":65500,"ss":"3-Helix"},
{"res":12,"t0":67000,"t1":68000,"ss":"3-Helix"},
{"res":12,"t0":70000,"t1":73000,"ss":"Bend"},
{"res":12,"t0":76000,"t1":77000,"ss":"Bend"},
{"res":12,"t0":80000,"t1":81000,"ss":"3-Helix"},
{"res":12,"t0":82500,"t1":83500,"ss":"3-Helix"},
{"res":12,"t0":85000,"t1":86000,"ss":"3-Helix"},
{"res":12,"t0":87500,"t1":88500,"ss":"3-Helix"},
{"res":12,"t0":90000,"t1":91000,"ss":"3-Helix"},
{"res":12,"t0":92500,"t1":93500,"ss":"3-Helix"},
{"res":12,"t0":95000,"t1":96000,"ss":"3-Helix"},
{"res":12,"t0":97500,"t1":98500,"ss":"3-Helix"},
{"res":12,"t0":107500,"t1":108500,"ss":"3-Helix"},
{"res":12,"t0":110500,"t1":111500,"ss":"3-Helix"},
{"res":12,"t0":113500,"t1":114500,"ss":"3-Helix"},
{"res":12,"t0":133000,"t1":133500,"ss":"3-Helix"},
{"res":12,"t0":143000,"t1":143500,"ss":"3-Helix"},
{"res":12,"t0":153000,"t1":153500,"ss":"3-Helix"},
{"res":12,"t0":158000,"t1":158500,"ss":"3-Helix"},
{"res":12,"t0":175000,"t1":175500,"ss":"3-Helix"},
{"res":12,"t0":183000,"t1":183500,"ss":"3-Helix"},
{"res":12,"t0":192000,"t1":192500,"ss":"3-Helix"},

{"res":11,"t0":0,"t1":30000,"ss":"Turn"},
{"res":11,"t0":30000,"t1":34500,"ss":"α-Helix"},
{"res":11,"t0":34500,"t1":36000,"ss":"3-Helix"},
{"res":11,"t0":36000,"t1":37000,"ss":"α-Helix"},
{"res":11,"t0":37000,"t1":39000,"ss":"Turn"},
{"res":11,"t0":39000,"t1":41000,"ss":"3-Helix"},
{"res":11,"t0":41000,"t1":48500,"ss":"α-Helix"},
{"res":11,"t0":48500,"t1":68600,"ss":"Turn"},
{"res":11,"t0":68600,"t1":78000,"ss":"Coil"},
{"res":11,"t0":78000,"t1":100000,"ss":"Turn"},
{"res":11,"t0":100000,"t1":106000,"ss":"α-Helix"},
{"res":11,"t0":106000,"t1":116000,"ss":"Turn"},
{"res":11,"t0":116000,"t1":200000,"ss":"α-Helix"},
{"res":11,"t0":1000,"t1":2000,"ss":"3-Helix"},
{"res":11,"t0":3500,"t1":4500,"ss":"3-Helix"},
{"res":11,"t0":6500,"t1":7500,"ss":"3-Helix"},
{"res":11,"t0":9000,"t1":10000,"ss":"3-Helix"},
{"res":11,"t0":11500,"t1":12500,"ss":"3-Helix"},
{"res":11,"t0":14500,"t1":15500,"ss":"3-Helix"},
{"res":11,"t0":17000,"t1":18000,"ss":"3-Helix"},
{"res":11,"t0":20000,"t1":21000,"ss":"3-Helix"},
{"res":11,"t0":22500,"t1":23500,"ss":"3-Helix"},
{"res":11,"t0":25500,"t1":26500,"ss":"3-Helix"},
{"res":11,"t0":28000,"t1":29000,"ss":"3-Helix"},
{"res":11,"t0":50500,"t1":51500,"ss":"3-Helix"},
{"res":11,"t0":53000,"t1":54000,"ss":"3-Helix"},
{"res":11,"t0":55500,"t1":56500,"ss":"3-Helix"},
{"res":11,"t0":58000,"t1":59000,"ss":"3-Helix"},
{"res":11,"t0":60500,"t1":61500,"ss":"3-Helix"},
{"res":11,"t0":63000,"t1":64000,"ss":"3-Helix"},
{"res":11,"t0":65500,"t1":66500,"ss":"3-Helix"},
{"res":11,"t0":79500,"t1":80500,"ss":"3-Helix"},
{"res":11,"t0":82000,"t1":83000,"ss":"3-Helix"},
{"res":11,"t0":84500,"t1":85500,"ss":"3-Helix"},
{"res":11,"t0":87000,"t1":88000,"ss":"3-Helix"},
{"res":11,"t0":89500,"t1":90500,"ss":"3-Helix"},
{"res":11,"t0":92000,"t1":93000,"ss":"3-Helix"},
{"res":11,"t0":94500,"t1":95500,"ss":"3-Helix"},
{"res":11,"t0":97000,"t1":98000,"ss":"3-Helix"},
{"res":11,"t0":108000,"t1":109000,"ss":"3-Helix"},
{"res":11,"t0":111000,"t1":112000,"ss":"3-Helix"},
{"res":11,"t0":114000,"t1":115000,"ss":"3-Helix"},
{"res":11,"t0":133000,"t1":133500,"ss":"3-Helix"},
{"res":11,"t0":143000,"t1":143500,"ss":"3-Helix"},
{"res":11,"t0":153000,"t1":153500,"ss":"3-Helix"},
{"res":11,"t0":158000,"t1":158500,"ss":"3-Helix"},
{"res":11,"t0":175000,"t1":175500,"ss":"3-Helix"},
{"res":11,"t0":183000,"t1":183500,"ss":"3-Helix"},
{"res":11,"t0":192000,"t1":192500,"ss":"3-Helix"},

{"res":10,"t0":0,"t1":31000,"ss":"α-Helix"},
{"res":10,"t0":31000,"t1":32000,"ss":"3-Helix"},
{"res":10,"t0":32000,"t1":33500,"ss":"Bend"},
{"res":10,"t0":33500,"t1":36000,"ss":"α-Helix"},
{"res":10,"t0":36000,"t1":37000,"ss":"Turn"},
{"res":10,"t0":37000,"t1":40000,"ss":"α-Helix"},
{"res":10,"t0":40000,"t1":42000,"ss":"3-Helix"},
{"res":10,"t0":42000,"t1":64000,"ss":"Turn"},
{"res":10,"t0":64000,"t1":90000,"ss":"Coil"},
{"res":10,"t0":90000,"t1":92000,"ss":"Turn"},
{"res":10,"t0":92000,"t1":99000,"ss":"Coil"},
{"res":10,"t0":99000,"t1":101000,"ss":"Turn"},
{"res":10,"t0":101000,"t1":136500,"ss":"Coil"},
{"res":10,"t0":136500,"t1":140000,"ss":"3-Helix"},
{"res":10,"t0":140000,"t1":200000,"ss":"Coil"},
{"res":10,"t0":4000,"t1":4500,"ss":"Coil"},
{"res":10,"t0":9000,"t1":9500,"ss":"Coil"},
{"res":10,"t0":14500,"t1":15000,"ss":"Coil"},
{"res":10,"t0":17000,"t1":17500,"ss":"3-Helix"},
{"res":10,"t0":20000,"t1":20500,"ss":"Coil"},
{"res":10,"t0":25000,"t1":25500,"ss":"Coil"},
{"res":10,"t0":44000,"t1":44600,"ss":"3-Helix"},
{"res":10,"t0":47000,"t1":47600,"ss":"3-Helix"},
{"res":10,"t0":50000,"t1":51000,"ss":"Coil"},
{"res":10,"t0":52500,"t1":53100,"ss":"3-Helix"},
{"res":10,"t0":56000,"t1":57000,"ss":"Coil"},
{"res":10,"t0":60000,"t1":60600,"ss":"3-Helix"},
{"res":10,"t0":103000,"t1":106000,"ss":"Turn"},
{"res":10,"t0":110000,"t1":110600,"ss":"Turn"},
{"res":10,"t0":114000,"t1":118000,"ss":"Turn"},
{"res":10,"t0":121000,"t1":121600,"ss":"Turn"},
{"res":10,"t0":125000,"t1":125600,"ss":"Turn"},
{"res":10,"t0":128000,"t1":131000,"ss":"Turn"},
{"res":10,"t0":134000,"t1":134600,"ss":"Turn"},
{"res":10,"t0":150000,"t1":150600,"ss":"Turn"},
{"res":10,"t0":153000,"t1":155000,"ss":"Turn"},
{"res":10,"t0":158000,"t1":158600,"ss":"Turn"},
{"res":10,"t0":159000,"t1":161000,"ss":"Turn"},
{"res":10,"t0":164000,"t1":166000,"ss":"Turn"},
{"res":10,"t0":170000,"t1":170600,"ss":"Turn"},
{"res":10,"t0":174000,"t1":174600,"ss":"Turn"},
{"res":10,"t0":178000,"t1":182000,"ss":"Turn"},
{"res":10,"t0":185000,"t1":185600,"ss":"Bend"},
{"res":10,"t0":188000,"t1":188600,"ss":"Turn"},
{"res":10,"t0":191000,"t1":195000,"ss":"Turn"},
{"res":10,"t0":198000,"t1":198600,"ss":"Turn"},

{"res":9,"t0":0,"t1":42000,"ss":"α-Helix"},
{"res":9,"t0":42000,"t1":64000,"ss":"Turn"},
{"res":9,"t0":64000,"t1":90000,"ss":"Coil"},
{"res":9,"t0":90000,"t1":92000,"ss":"Turn"},
{"res":9,"t0":92000,"t1":99000,"ss":"Coil"},
{"res":9,"t0":99000,"t1":200000,"ss":"Turn"},
{"res":9,"t0":3000,"t1":3500,"ss":"Coil"},
{"res":9,"t0":8000,"t1":8500,"ss":"3-Helix"},
{"res":9,"t0":13000,"t1":13500,"ss":"Coil"},
{"res":9,"t0":19000,"t1":19500,"ss":"Coil"},
{"res":9,"t0":24000,"t1":24600,"ss":"3-Helix"},
{"res":9,"t0":30000,"t1":31000,"ss":"3-Helix"},
{"res":9,"t0":32000,"t1":33000,"ss":"Turn"},
{"res":9,"t0":33500,"t1":34500,"ss":"Bend"},
{"res":9,"t0":35500,"t1":36500,"ss":"3-Helix"},
{"res":9,"t0":38000,"t1":39000,"ss":"Turn"},
{"res":9,"t0":40000,"t1":41000,"ss":"3-Helix"},
{"res":9,"t0":44500,"t1":45100,"ss":"3-Helix"},
{"res":9,"t0":48000,"t1":48600,"ss":"3-Helix"},
{"res":9,"t0":50000,"t1":50600,"ss":"Bend"},
{"res":9,"t0":53000,"t1":53600,"ss":"3-Helix"},
{"res":9,"t0":57500,"t1":60000,"ss":"Bend"},
{"res":9,"t0":62000,"t1":62600,"ss":"3-Helix"},
{"res":9,"t0":101000,"t1":101600,"ss":"Bend"},
{"res":9,"t0":103000,"t1":103600,"ss":"3-Helix"},
{"res":9,"t0":104000,"t1":106000,"ss":"Bend"},
{"res":9,"t0":109000,"t1":109600,"ss":"Bend"},
{"res":9,"t0":112000,"t1":114000,"ss":"Bend"},
{"res":9,"t0":116000,"t1":116600,"ss":"3-Helix"},
{"res":9,"t0":118000,"t1":118600,"ss":"Bend"},
{"res":9,"t0":121000,"t1":121600,"ss":"Bend"},
{"res":9,"t0":124000,"t1":124600,"ss":"3-Helix"},
{"res":9,"t0":126000,"t1":126600,"ss":"Bend"},
{"res":9,"t0":129000,"t1":131000,"ss":"Bend"},
{"res":9,"t0":135000,"t1":135600,"ss":"Bend"},
{"res":9,"t0":137000,"t1":139000,"ss":"3-Helix"},
{"res":9,"t0":142000,"t1":142600,"ss":"Bend"},
{"res":9,"t0":146000,"t1":148000,"ss":"Bend"},
{"res":9,"t0":150000,"t1":150600,"ss":"3-Helix"},
{"res":9,"t0":152000,"t1":152600,"ss":"Bend"},
{"res":9,"t0":157000,"t1":157600,"ss":"Bend"},
{"res":9,"t0":161000,"t1":163000,"ss":"Bend"},
{"res":9,"t0":167000,"t1":167600,"ss":"Bend"},
{"res":9,"t0":170000,"t1":171000,"ss":"Bend"},
{"res":9,"t0":172000,"t1":172600,"ss":"Bend"},
{"res":9,"t0":176000,"t1":177000,"ss":"Bend"},
{"res":9,"t0":182000,"t1":184000,"ss":"Bend"},
{"res":9,"t0":188000,"t1":188600,"ss":"Bend"},
{"res":9,"t0":191000,"t1":192000,"ss":"Bend"},
{"res":9,"t0":193000,"t1":193600,"ss":"Bend"},
{"res":9,"t0":197000,"t1":198000,"ss":"Bend"},

{"res":8,"t0":0,"t1":42000,"ss":"α-Helix"},
{"res":8,"t0":42000,"t1":47500,"ss":"Turn"},
{"res":8,"t0":47500,"t1":52000,"ss":"Bend"},
{"res":8,"t0":52000,"t1":79000,"ss":"Turn"},
{"res":8,"t0":79000,"t1":83000,"ss":"Bend"},
{"res":8,"t0":83000,"t1":168000,"ss":"Turn"},
{"res":8,"t0":168000,"t1":200000,"ss":"Bend"},
{"res":8,"t0":30000,"t1":30600,"ss":"Turn"},
{"res":8,"t0":33000,"t1":33600,"ss":"Turn"},
{"res":8,"t0":36000,"t1":37000,"ss":"Turn"},
{"res":8,"t0":40000,"t1":40600,"ss":"Turn"},
{"res":8,"t0":44000,"t1":45000,"ss":"Coil"},
{"res":8,"t0":54000,"t1":54600,"ss":"Bend"},
{"res":8,"t0":57000,"t1":57600,"ss":"Bend"},
{"res":8,"t0":60000,"t1":62000,"ss":"Bend"},
{"res":8,"t0":66000,"t1":66600,"ss":"Bend"},
{"res":8,"t0":69000,"t1":71000,"ss":"Bend"},
{"res":8,"t0":74000,"t1":74600,"ss":"Bend"},
{"res":8,"t0":76000,"t1":76600,"ss":"3-Helix"},
{"res":8,"t0":86000,"t1":86600,"ss":"Bend"},
{"res":8,"t0":89000,"t1":91000,"ss":"Bend"},
{"res":8,"t0":95000,"t1":95600,"ss":"Bend"},
{"res":8,"t0":97000,"t1":97600,"ss":"3-Helix"},
{"res":8,"t0":99000,"t1":99600,"ss":"Bend"},
{"res":8,"t0":103000,"t1":103600,"ss":"Bend"},
{"res":8,"t0":107000,"t1":109000,"ss":"Bend"},
{"res":8,"t0":113000,"t1":113600,"ss":"Bend"},
{"res":8,"t0":115000,"t1":115600,"ss":"3-Helix"},
{"res":8,"t0":117000,"t1":117600,"ss":"Bend"},
{"res":8,"t0":120000,"t1":120600,"ss":"Bend"},
{"res":8,"t0":124000,"t1":126000,"ss":"Bend"},
{"res":8,"t0":130000,"t1":130600,"ss":"Bend"},
{"res":8,"t0":134000,"t1":134600,"ss":"Bend"},
{"res":8,"t0":137000,"t1":138000,"ss":"3-Helix"},
{"res":8,"t0":138000,"t1":140000,"ss":"Bend"},
{"res":8,"t0":143000,"t1":143600,"ss":"Bend"},
{"res":8,"t0":148000,"t1":150000,"ss":"Bend"},
{"res":8,"t0":155000,"t1":155600,"ss":"Bend"},
{"res":8,"t0":158000,"t1":161000,"ss":"Bend"},
{"res":8,"t0":165000,"t1":165600,"ss":"Bend"},
{"res":8,"t0":171000,"t1":171600,"ss":"Turn"},
{"res":8,"t0":176000,"t1":177000,"ss":"Turn"},
{"res":8,"t0":183000,"t1":183600,"ss":"Turn"},
{"res":8,"t0":188000,"t1":188600,"ss":"Turn"},
{"res":8,"t0":193000,"t1":193600,"ss":"Turn"},

{"res":7,"t0":0,"t1":42000,"ss":"α-Helix"},
{"res":7,"t0":42000,"t1":47500,"ss":"Turn"},
{"res":7,"t0":47500,"t1":50000,"ss":"Bend"},
{"res":7,"t0":50000,"t1":80000,"ss":"Turn"},
{"res":7,"t0":80000,"t1":83500,"ss":"Coil"},
{"res":7,"t0":83500,"t1":150000,"ss":"Turn"},
{"res":7,"t0":150000,"t1":200000,"ss":"Bend"},
{"res":7,"t0":31000,"t1":31600,"ss":"Turn"},
{"res":7,"t0":35000,"t1":35600,"ss":"Turn"},
{"res":7,"t0":39000,"t1":39600,"ss":"Turn"},
{"res":7,"t0":44000,"t1":45500,"ss":"Coil"},
{"res":7,"t0":52000,"t1":52600,"ss":"Bend"},
{"res":7,"t0":55000,"t1":57000,"ss":"Bend"},
{"res":7,"t0":60000,"t1":60600,"ss":"Bend"},
{"res":7,"t0":63000,"t1":63600,"ss":"Bend"},
{"res":7,"t0":66000,"t1":68000,"ss":"Bend"},
{"res":7,"t0":72000,"t1":72600,"ss":"Bend"},
{"res":7,"t0":75000,"t1":75600,"ss":"Bend"},
{"res":7,"t0":86000,"t1":86600,"ss":"Bend"},
{"res":7,"t0":89000,"t1":89600,"ss":"Bend"},
{"res":7,"t0":93000,"t1":94000,"ss":"Bend"},
{"res":7,"t0":97000,"t1":97600,"ss":"Bend"},
{"res":7,"t0":101000,"t1":101600,"ss":"Bend"},
{"res":7,"t0":104000,"t1":106000,"ss":"Bend"},
{"res":7,"t0":109000,"t1":109600,"ss":"Bend"},
{"res":7,"t0":113000,"t1":113600,"ss":"Bend"},
{"res":7,"t0":116000,"t1":118000,"ss":"Bend"},
{"res":7,"t0":121000,"t1":121600,"ss":"Bend"},
{"res":7,"t0":125000,"t1":125600,"ss":"Bend"},
{"res":7,"t0":128000,"t1":130000,"ss":"Bend"},
{"res":7,"t0":133000,"t1":133600,"ss":"Bend"},
{"res":7,"t0":137000,"t1":137600,"ss":"3-Helix"},
{"res":7,"t0":140000,"t1":141000,"ss":"Bend"},
{"res":7,"t0":144000,"t1":146000,"ss":"Bend"},
{"res":7,"t0":153000,"t1":153600,"ss":"Turn"},
{"res":7,"t0":158000,"t1":158600,"ss":"Turn"},
{"res":7,"t0":161000,"t1":162000,"ss":"Turn"},
{"res":7,"t0":166000,"t1":166600,"ss":"Turn"},
{"res":7,"t0":172000,"t1":172600,"ss":"Turn"},
{"res":7,"t0":178000,"t1":178600,"ss":"Turn"},
{"res":7,"t0":185000,"t1":185600,"ss":"Turn"},
{"res":7,"t0":191000,"t1":191600,"ss":"Turn"},
{"res":7,"t0":196000,"t1":196600,"ss":"Turn"},

{"res":6,"t0":0,"t1":18500,"ss":"Turn"},
{"res":6,"t0":18500,"t1":31000,"ss":"Bend"},
{"res":6,"t0":31000,"t1":48000,"ss":"Turn"},
{"res":6,"t0":48000,"t1":54000,"ss":"Coil"},
{"res":6,"t0":54000,"t1":55000,"ss":"Bend"},
{"res":6,"t0":55000,"t1":76400,"ss":"Coil"},
{"res":6,"t0":76400,"t1":84000,"ss":"Bend"},
{"res":6,"t0":84000,"t1":103000,"ss":"Turn"},
{"res":6,"t0":103000,"t1":117000,"ss":"Coil"},
{"res":6,"t0":117000,"t1":118000,"ss":"Bend"},
{"res":6,"t0":118000,"t1":124000,"ss":"Coil"},
{"res":6,"t0":124000,"t1":129000,"ss":"Turn"},
{"res":6,"t0":129000,"t1":133000,"ss":"Coil"},
{"res":6,"t0":133000,"t1":143000,"ss":"Turn"},
{"res":6,"t0":143000,"t1":168000,"ss":"Coil"},
{"res":6,"t0":168000,"t1":200000,"ss":"Bend"},
{"res":6,"t0":3500,"t1":4500,"ss":"Bend"},
{"res":6,"t0":7500,"t1":8000,"ss":"Bend"},
{"res":6,"t0":10000,"t1":10600,"ss":"Bend"},
{"res":6,"t0":13000,"t1":13600,"ss":"Bend"},
{"res":6,"t0":32000,"t1":34000,"ss":"Bend"},
{"res":6,"t0":36000,"t1":36600,"ss":"Bend"},
{"res":6,"t0":38000,"t1":39000,"ss":"Bend"},
{"res":6,"t0":41000,"t1":41600,"ss":"Bend"},
{"res":6,"t0":43000,"t1":45000,"ss":"Bend"},
{"res":6,"t0":64000,"t1":64600,"ss":"Bend"},
{"res":6,"t0":86000,"t1":86600,"ss":"Bend"},
{"res":6,"t0":89000,"t1":90000,"ss":"Bend"},
{"res":6,"t0":93000,"t1":93600,"ss":"Bend"},
{"res":6,"t0":96000,"t1":97000,"ss":"Bend"},
{"res":6,"t0":100000,"t1":100600,"ss":"Bend"},
{"res":6,"t0":108000,"t1":108500,"ss":"Bend"},
{"res":6,"t0":110000,"t1":110600,"ss":"Turn"},
{"res":6,"t0":126000,"t1":126600,"ss":"Bend"},
{"res":6,"t0":135000,"t1":136000,"ss":"Bend"},
{"res":6,"t0":139000,"t1":140000,"ss":"Bend"},
{"res":6,"t0":153000,"t1":153600,"ss":"Bend"},
{"res":6,"t0":158000,"t1":158600,"ss":"Bend"},
{"res":6,"t0":176000,"t1":176600,"ss":"Coil"},
{"res":6,"t0":181000,"t1":183000,"ss":"Coil"},
{"res":6,"t0":194000,"t1":194600,"ss":"Coil"},

{"res":5,"t0":0,"t1":18500,"ss":"Turn"},
{"res":5,"t0":18500,"t1":84000,"ss":"Bend"},
{"res":5,"t0":84000,"t1":103000,"ss":"Turn"},
{"res":5,"t0":103000,"t1":136500,"ss":"Bend"},
{"res":5,"t0":136500,"t1":140000,"ss":"Turn"},
{"res":5,"t0":140000,"t1":147700,"ss":"Bend"},
{"res":5,"t0":147700,"t1":150000,"ss":"Coil"},
{"res":5,"t0":150000,"t1":159500,"ss":"Bend"},
{"res":5,"t0":159500,"t1":160600,"ss":"Coil"},
{"res":5,"t0":160600,"t1":168000,"ss":"Bend"},
{"res":5,"t0":168000,"t1":168800,"ss":"Coil"},
{"res":5,"t0":168800,"t1":178500,"ss":"Bend"},
{"res":5,"t0":178500,"t1":195000,"ss":"Coil"},
{"res":5,"t0":195000,"t1":200000,"ss":"Bend"},
{"res":5,"t0":2500,"t1":3000,"ss":"Bend"},
{"res":5,"t0":4500,"t1":5500,"ss":"Bend"},
{"res":5,"t0":8000,"t1":8600,"ss":"Bend"},
{"res":5,"t0":10500,"t1":11000,"ss":"Bend"},
{"res":5,"t0":13500,"t1":14000,"ss":"Bend"},
{"res":5,"t0":25000,"t1":25600,"ss":"Turn"},
{"res":5,"t0":33000,"t1":33600,"ss":"Turn"},
{"res":5,"t0":36000,"t1":37000,"ss":"Turn"},
{"res":5,"t0":40000,"t1":40600,"ss":"Turn"},
{"res":5,"t0":44000,"t1":46000,"ss":"Turn"},
{"res":5,"t0":52000,"t1":52500,"ss":"Coil"},
{"res":5,"t0":56000,"t1":56600,"ss":"Coil"},
{"res":5,"t0":61000,"t1":61500,"ss":"Coil"},
{"res":5,"t0":67000,"t1":67600,"ss":"Coil"},
{"res":5,"t0":71000,"t1":71600,"ss":"Coil"},
{"res":5,"t0":86000,"t1":86600,"ss":"Bend"},
{"res":5,"t0":89000,"t1":89600,"ss":"Bend"},
{"res":5,"t0":92000,"t1":94000,"ss":"Bend"},
{"res":5,"t0":97000,"t1":97600,"ss":"Bend"},
{"res":5,"t0":101000,"t1":101600,"ss":"Bend"},
{"res":5,"t0":108000,"t1":109500,"ss":"Coil"},
{"res":5,"t0":117000,"t1":118500,"ss":"Coil"},
{"res":5,"t0":127000,"t1":130000,"ss":"Coil"},
{"res":5,"t0":187000,"t1":187600,"ss":"Bend"},
{"res":5,"t0":189000,"t1":189600,"ss":"Bend"},
{"res":5,"t0":191500,"t1":192500,"ss":"Bend"},

{"res":4,"t0":0,"t1":21000,"ss":"Turn"},
{"res":4,"t0":21000,"t1":22000,"ss":"Coil"},
{"res":4,"t0":22000,"t1":56000,"ss":"Turn"},
{"res":4,"t0":56000,"t1":76000,"ss":"Coil"},
{"res":4,"t0":76000,"t1":140000,"ss":"Turn"},
{"res":4,"t0":140000,"t1":169000,"ss":"Coil"},
{"res":4,"t0":169000,"t1":176000,"ss":"Bend"},
{"res":4,"t0":176000,"t1":196000,"ss":"Coil"},
{"res":4,"t0":196000,"t1":200000,"ss":"Bend"},
{"res":4,"t0":8000,"t1":8600,"ss":"Bend"},
{"res":4,"t0":10000,"t1":11000,"ss":"Bend"},
{"res":4,"t0":13000,"t1":13600,"ss":"Bend"},
{"res":4,"t0":15500,"t1":16100,"ss":"Bend"},
{"res":4,"t0":18000,"t1":18600,"ss":"Bend"},
{"res":4,"t0":23000,"t1":23600,"ss":"Bend"},
{"res":4,"t0":26000,"t1":26600,"ss":"Bend"},
{"res":4,"t0":29500,"t1":30100,"ss":"Bend"},
{"res":4,"t0":32000,"t1":33000,"ss":"Bend"},
{"res":4,"t0":36000,"t1":36600,"ss":"Bend"},
{"res":4,"t0":39500,"t1":40100,"ss":"Bend"},
{"res":4,"t0":43000,"t1":43600,"ss":"Bend"},
{"res":4,"t0":47000,"t1":47600,"ss":"Bend"},
{"res":4,"t0":51000,"t1":51600,"ss":"Bend"},
{"res":4,"t0":53500,"t1":54100,"ss":"Bend"},
{"res":4,"t0":66000,"t1":66500,"ss":"Bend"},
{"res":4,"t0":68000,"t1":68500,"ss":"Bend"},
{"res":4,"t0":70000,"t1":70500,"ss":"Bend"},
{"res":4,"t0":72000,"t1":72500,"ss":"Bend"},
{"res":4,"t0":78000,"t1":78600,"ss":"Bend"},
{"res":4,"t0":81000,"t1":81600,"ss":"Bend"},
{"res":4,"t0":84000,"t1":84600,"ss":"Bend"},
{"res":4,"t0":88000,"t1":88600,"ss":"Bend"},
{"res":4,"t0":92000,"t1":92600,"ss":"Bend"},
{"res":4,"t0":97000,"t1":97600,"ss":"Bend"},
{"res":4,"t0":100000,"t1":102000,"ss":"Bend"},
{"res":4,"t0":105000,"t1":105600,"ss":"Bend"},
{"res":4,"t0":108000,"t1":108600,"ss":"Bend"},
{"res":4,"t0":112000,"t1":112600,"ss":"Bend"},
{"res":4,"t0":115000,"t1":117000,"ss":"Bend"},
{"res":4,"t0":120000,"t1":120600,"ss":"Bend"},
{"res":4,"t0":124000,"t1":124600,"ss":"Bend"},
{"res":4,"t0":128000,"t1":128600,"ss":"Bend"},
{"res":4,"t0":131000,"t1":131600,"ss":"Bend"},
{"res":4,"t0":134000,"t1":135000,"ss":"Bend"},
{"res":4,"t0":137000,"t1":138000,"ss":"Bend"},
{"res":4,"t0":160000,"t1":160400,"ss":"3-Helix"},
{"res":4,"t0":172000,"t1":172500,"ss":"Coil"},
{"res":4,"t0":188000,"t1":188500,"ss":"Bend"},

{"res":3,"t0":0,"t1":56000,"ss":"Turn"},
{"res":3,"t0":56000,"t1":76000,"ss":"Coil"},
{"res":3,"t0":76000,"t1":137600,"ss":"Turn"},
{"res":3,"t0":137600,"t1":143000,"ss":"Bend"},
{"res":3,"t0":143000,"t1":149500,"ss":"Coil"},
{"res":3,"t0":149500,"t1":163600,"ss":"Bend"},
{"res":3,"t0":163600,"t1":165500,"ss":"Coil"},
{"res":3,"t0":165500,"t1":176000,"ss":"Bend"},
{"res":3,"t0":176000,"t1":195500,"ss":"Coil"},
{"res":3,"t0":195500,"t1":200000,"ss":"Bend"},
{"res":3,"t0":9000,"t1":9600,"ss":"Bend"},
{"res":3,"t0":12000,"t1":12600,"ss":"Bend"},
{"res":3,"t0":14500,"t1":15100,"ss":"Bend"},
{"res":3,"t0":17000,"t1":17600,"ss":"Bend"},
{"res":3,"t0":21000,"t1":22000,"ss":"Bend"},
{"res":3,"t0":25000,"t1":25600,"ss":"Bend"},
{"res":3,"t0":28000,"t1":28600,"ss":"Bend"},
{"res":3,"t0":31000,"t1":31600,"ss":"Bend"},
{"res":3,"t0":35000,"t1":35600,"ss":"Bend"},
{"res":3,"t0":38000,"t1":38600,"ss":"Bend"},
{"res":3,"t0":42000,"t1":42600,"ss":"Bend"},
{"res":3,"t0":45000,"t1":45600,"ss":"Bend"},
{"res":3,"t0":49000,"t1":49600,"ss":"Bend"},
{"res":3,"t0":52000,"t1":52600,"ss":"Bend"},
{"res":3,"t0":55000,"t1":55600,"ss":"Bend"},
{"res":3,"t0":79000,"t1":79600,"ss":"Bend"},
{"res":3,"t0":83000,"t1":83600,"ss":"Bend"},
{"res":3,"t0":86000,"t1":88000,"ss":"Bend"},
{"res":3,"t0":92000,"t1":92600,"ss":"Bend"},
{"res":3,"t0":95000,"t1":95600,"ss":"Bend"},
{"res":3,"t0":99000,"t1":99600,"ss":"Bend"},
{"res":3,"t0":103000,"t1":103600,"ss":"Bend"},
{"res":3,"t0":106000,"t1":108000,"ss":"Bend"},
{"res":3,"t0":112000,"t1":112600,"ss":"Bend"},
{"res":3,"t0":116000,"t1":116600,"ss":"Bend"},
{"res":3,"t0":119000,"t1":121000,"ss":"Bend"},
{"res":3,"t0":125000,"t1":125600,"ss":"Bend"},
{"res":3,"t0":129000,"t1":129600,"ss":"Bend"},
{"res":3,"t0":132000,"t1":132600,"ss":"Bend"},
{"res":3,"t0":145500,"t1":146100,"ss":"Bend"},
{"res":3,"t0":147000,"t1":147600,"ss":"Bend"},
{"res":3,"t0":188000,"t1":188400,"ss":"Bend"},
{"res":3,"t0":190000,"t1":190500,"ss":"Bend"}
]},
"mark": {"type": "bar", "orient": "horizontal", "size": 13.8},
"encoding": {
  "y": {"field": "res", "type": "quantitative",
        "scale": {"domain": [0.43, 28.64], "nice": false, "zero": false},
        "axis": {"values": [1,2,3,4,5,6,7,8,9,10,11,12,13,14,15,16,17,18,19,20,21,22,23,24,25,26,27,28],
                 "labelExpr": "datum.value % 5 === 0 ? datum.label : ''",
                 "grid": false, "tickSize": 6, "tickColor": "#000", "domainColor": "#000", "domainWidth": 2,
                 "labelFontSize": 13, "labelColor": "#222", "labelPadding": 3,
                 "title": "Residue", "titleFontSize": 20, "titleFontWeight": "normal", "titleColor": "#000", "titlePadding": 8}},
  "x": {"field": "t0", "type": "quantitative",
        "scale": {"domain": [0, 200000], "nice": false, "zero": false},
        "axis": {"values": [0,10000,20000,30000,40000,50000,60000,70000,80000,90000,100000,110000,120000,130000,140000,150000,160000,170000,180000,190000,200000],
                 "labelExpr": "datum.value % 50000 === 0 ? datum.label : ''",
                 "grid": false, "tickSize": 6, "tickColor": "#000", "domainColor": "#000", "domainWidth": 2,
                 "labelFontSize": 12, "labelColor": "#222", "labelPadding": 3, "labelFlush": false, "labelOverlap": false,
                 "title": "Time (ps)", "titleFontSize": 20, "titleFontWeight": "normal", "titleColor": "#000", "titlePadding": 9}},
  "x2": {"field": "t1"},
  "color": {"field": "ss", "type": "nominal",
            "scale": {"domain": ["Coil", "β-Bridge", "Bend", "Turn", "α-Helix", "5-Helix", "3-Helix"],
                      "range": ["#ffffff", "#000000", "#008000", "#ffff00", "#0000ff", "#800080", "#808080"]},
            "legend": {"orient": "none", "legendX": -11, "legendY": 449, "direction": "horizontal", "columns": 7,
                       "title": null, "symbolType": "square", "symbolSize": 324, "symbolStrokeColor": "#000",
                       "symbolStrokeWidth": 1.2, "symbolOpacity": 1, "labelFontSize": 18, "labelColor": "#000",
                       "labelOffset": 5, "columnPadding": 4, "labelLimit": 200}}
}
}
